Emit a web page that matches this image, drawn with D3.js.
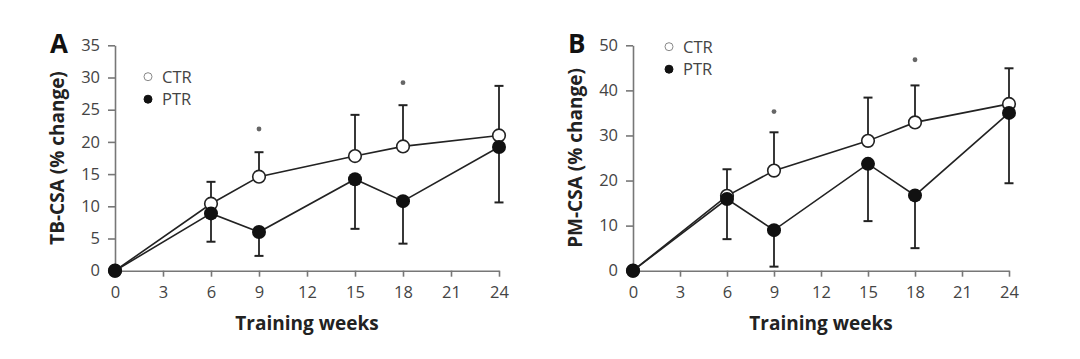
<!DOCTYPE html>
<html>
<head>
<meta charset="utf-8">
<script src="https://cdn.jsdelivr.net/npm/d3@7"></script>
<style>
  body { margin: 0; background: #fff; }
  svg { display: block; font-family: "Open Sans", "Liberation Sans", sans-serif; }
</style>
</head>
<body>
<div id="chart"></div>
<script>
// Shared x values (training weeks)
const weeks = [0, 6, 9, 15, 18, 24];
const xTicks = [0, 3, 6, 9, 12, 15, 18, 21, 24];

// Panel A: TB-CSA
const ctrA = [0, 10.4, 14.6, 17.8, 19.3, 21.0];
const ctrAErr = [0, 3.4, 3.8, 6.4, 6.4, 7.7];
const ptrA = [0, 8.9, 6.0, 14.2, 10.8, 19.2];
const ptrAErr = [0, 4.4, 3.7, 7.7, 6.6, 8.6];
const starWeeksA = [9, 18];
const starYA = [22.0, 29.2];
const yTicksA = [0, 5, 10, 15, 20, 25, 30, 35];

// Panel B: PM-CSA
const ctrB = [0, 16.6, 22.2, 28.8, 32.9, 37.0];
const ctrBErr = [0, 5.9, 8.5, 9.6, 8.2, 7.9];
const ptrB = [0, 15.9, 9.0, 23.7, 16.7, 35.0];
const ptrBErr = [0, 8.9, 8.1, 12.7, 11.7, 15.6];
const starWeeksB = [9, 18];
const starYB = [35.3, 46.8];
const yTicksB = [0, 10, 20, 30, 40, 50];

const svg = d3.select("#chart").append("svg")
  .attr("width", 1080)
  .attr("height", 359);

function drawPanel(p) {
  const x = d3.scaleLinear().domain([0, 24]).range([p.x0, p.x1]);
  const y = d3.scaleLinear().domain([0, p.yMax]).range([270.7, 45.3]);
  const g = svg.append("g");

  // axes
  const yAxis = g.append("g")
    .attr("transform", `translate(${p.x0},0)`)
    .call(d3.axisLeft(y).tickValues(p.yTicks).tickSize(7).tickSizeOuter(0).tickPadding(8));
  const xAxis = g.append("g")
    .attr("transform", `translate(0,${y(0)})`)
    .call(d3.axisBottom(x).tickValues(xTicks).tickSize(6).tickSizeOuter(0).tickPadding(10));
  [xAxis, yAxis].forEach(a => {
    a.select(".domain").attr("stroke", "#777").attr("stroke-width", 1.6);
    a.selectAll(".tick line").attr("stroke", "#777").attr("stroke-width", 1.6);
    a.selectAll(".tick text").attr("fill", "#444").style("font-size", "16.5px")
      .style("font-family", "'Open Sans', sans-serif");
  });

  // axis titles
  g.append("text")
    .attr("x", (p.x0 + p.x1) / 2)
    .attr("y", 330)
    .attr("text-anchor", "middle")
    .style("font-size", "19px")
    .style("font-weight", "bold")
    .attr("fill", "#222")
    .text("Training weeks");
  g.append("text")
    .attr("transform", `translate(${p.x0 - 51},${(45 + 271) / 2}) rotate(-90)`)
    .attr("text-anchor", "middle")
    .style("font-size", "19px")
    .style("font-weight", "bold")
    .attr("fill", "#222")
    .text(p.yTitle);

  // panel letter
  g.append("text")
    .attr("x", p.x0 - 65)
    .attr("y", 53)
    .style("font-size", "26px")
    .style("font-weight", "bold")
    .attr("fill", "#111")
    .text(p.letter);

  const line = d3.line().x((d, i) => x(weeks[i])).y(d => y(d));
  [p.ctr, p.ptr].forEach(s => {
    g.append("path").datum(s)
      .attr("d", line)
      .attr("fill", "none")
      .attr("stroke", "#222")
      .attr("stroke-width", 1.6);
  });

  // error bars: CTR upward, PTR downward
  const bars = [
    { vals: p.ctr, err: p.ctrErr, dir: 1 },
    { vals: p.ptr, err: p.ptrErr, dir: -1 }
  ];
  bars.forEach(b => {
    weeks.forEach((w, i) => {
      if (!b.err[i]) return;
      const end = b.vals[i] + b.dir * b.err[i];
      g.append("line")
        .attr("x1", x(w)).attr("x2", x(w))
        .attr("y1", y(b.vals[i])).attr("y2", y(end))
        .attr("stroke", "#222").attr("stroke-width", 1.8);
      g.append("line")
        .attr("x1", x(w) - 4.5).attr("x2", x(w) + 4.5)
        .attr("y1", y(end)).attr("y2", y(end))
        .attr("stroke", "#222").attr("stroke-width", 2);
    });
  });

  // markers
  g.selectAll(null).data(p.ctr).enter().append("circle")
    .attr("cx", (d, i) => x(weeks[i]))
    .attr("cy", d => y(d))
    .attr("r", 6.3)
    .attr("fill", "#fff")
    .attr("stroke", "#222")
    .attr("stroke-width", 1.6);
  g.selectAll(null).data(p.ptr).enter().append("circle")
    .attr("cx", (d, i) => x(weeks[i]))
    .attr("cy", d => y(d))
    .attr("r", 7)
    .attr("fill", "#111");

  // significance marks
  p.starWeeks.forEach((w, i) => {
    g.append("circle")
      .attr("cx", x(w))
      .attr("cy", y(p.starY[i]))
      .attr("r", 2.4)
      .attr("fill", "#666");
  });

  // legend
  const lg = g.append("g").attr("transform", `translate(${p.legX},${p.legY})`);
  [["CTR", "#fff", "#888"], ["PTR", "#111", "#111"]].forEach((it, i) => {
    lg.append("circle")
      .attr("cx", 0).attr("cy", i * 22.5)
      .attr("r", 4)
      .attr("fill", it[1])
      .attr("stroke", it[2])
      .attr("stroke-width", 1);
    lg.append("text")
      .attr("x", 14).attr("y", i * 22.5 + 6)
      .style("font-size", "16.5px")
      .attr("fill", "#444")
      .text(it[0]);
  });
}

drawPanel({
  letter: "A", x0: 115, x1: 499, yMax: 35, yTicks: yTicksA,
  yTitle: "TB-CSA (% change)",
  ctr: ctrA, ctrErr: ctrAErr, ptr: ptrA, ptrErr: ptrAErr,
  starWeeks: starWeeksA, starY: starYA, legX: 148, legY: 76.7
});
drawPanel({
  letter: "B", x0: 633, x1: 1009, yMax: 50, yTicks: yTicksB,
  yTitle: "PM-CSA (% change)",
  ctr: ctrB, ctrErr: ctrBErr, ptr: ptrB, ptrErr: ptrBErr,
  starWeeks: starWeeksB, starY: starYB, legX: 669, legY: 46.7
});
</script>
</body>
</html>
